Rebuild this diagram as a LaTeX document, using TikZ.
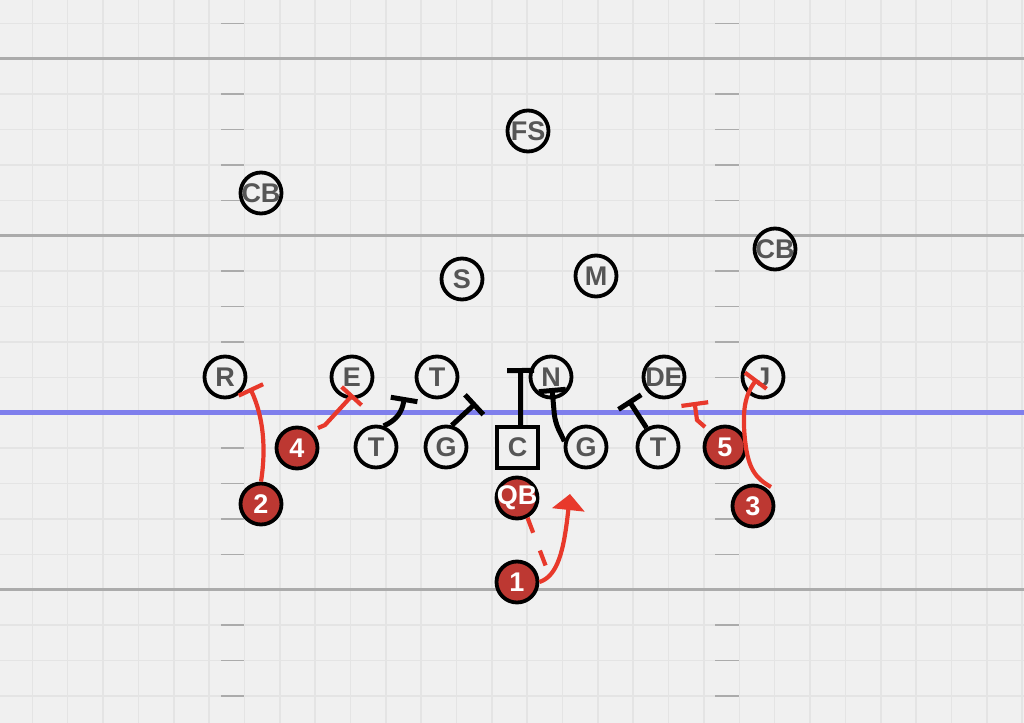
\documentclass[tikz,border=0pt]{standalone}
\usepackage{fontspec}
\setmainfont{Liberation Sans}
\usetikzlibrary{arrows.meta}

\definecolor{fieldbg}{HTML}{F0F0F0}
\definecolor{gridln}{HTML}{E4E4E4}
\definecolor{yardln}{HTML}{ABABAB}
\definecolor{scrim}{HTML}{7F7FEC}
\definecolor{routered}{HTML}{E8392B}
\definecolor{playred}{HTML}{BD3832}
\definecolor{lettergray}{HTML}{555555}

\tikzset{
  def/.style={circle,draw=black,line width=1.9pt,fill=fieldbg,minimum size=20.5pt,inner sep=0pt,
    font=\bfseries\fontsize{13.5}{13.5}\selectfont,text=lettergray},
  ctr/.style={def,rectangle},
  mine/.style={def,fill=playred,text=white},
  blk/.style={line width=2.5pt,-{Bar[width=13.5pt]}},
  redblk/.style={blk,draw=routered,line width=2.1pt},
}
\newcommand{\pl}[1]{\makebox[0pt]{#1}}

\begin{document}
\begin{tikzpicture}[x=0.5pt,y=-0.5pt]
    \fill[fieldbg] (0,0) rectangle (1024,723);
    \useasboundingbox (0,0) rectangle (1024,723);

    % field
    \foreach \i in {0,...,28}
        \draw[gridln,line width=0.8pt] ({32.3+35.35*\i},0) -- ++(0,723);
    \foreach \j in {0,...,19}
        \draw[gridln,line width=0.8pt] (0,{23.3+35.4*\j}) -- ++(1024,0);
    \foreach \j in {1,6,11,16}
        \draw[yardln,line width=1.75pt] (0,{23.3+35.4*\j}) -- ++(1024,0);
    \foreach \j in {0,2,3,4,5,7,8,9,10,12,13,14,15,17,18,19} {
        \draw[yardln,line width=0.7pt] (221,{23.3+35.4*\j}) -- (244,{23.3+35.4*\j});
        \draw[yardln,line width=0.7pt] (715,{23.3+35.4*\j}) -- (739,{23.3+35.4*\j});
    }
    \draw[scrim,line width=2.5pt] (0,412.3) -- (1024,412.3);

    % defense
    \node[def] (cbl) at (261,193) {\pl{CB}};
    \node[def] (fs) at (528,131) {\pl{FS}};
    \node[def] (ss) at (462,279) {\pl{S}};
    \node[def] (mm) at (596,276) {\pl{M}};
    \node[def] (cbr) at (775,249) {\pl{CB}};
    \node[def] (rr) at (225,377) {\pl{R}};
    \node[def] (ee) at (352,377) {\pl{E}};
    \node[def] (tt) at (437,377) {\pl{T}};
    \node[def] (nn) at (551,377) {\pl{N}};
    \node[def] (de) at (664,377) {\pl{DE}};
    \node[def] (jj) at (763,377) {\pl{J}};

    % offense
    \node[def] (otl) at (376,447) {\pl{T}};
    \node[def] (ogl) at (446,447) {\pl{G}};
    \node[ctr] (oc) at (517.7,447.5) {\pl{C}};
    \node[def] (ogr) at (586,447) {\pl{G}};
    \node[def] (otr) at (658,447) {\pl{T}};
    \node[mine] (qb) at (517,498) {\pl{QB}};
    \node[mine] (p4) at (297,448) {\pl{4}};
    \node[mine] (p2) at (261,504) {\pl{2}};
    \node[mine] (p5) at (725,447) {\pl{5}};
    \node[mine] (p3) at (753,506) {\pl{3}};
    \node[mine] (p1) at (517,582) {\pl{1}};

    % blocks
    \coordinate (b2) at (250,388);
    \coordinate (b4) at (353,394.5);
    \coordinate (bt) at (404.5,397);
    \coordinate (bg) at (476,403);
    \coordinate (bc) at (520.5,368);
    \coordinate (bgr) at (552,388);
    \coordinate (btr) at (628.5,400);
    \coordinate (b5) at (694.5,402);
    \coordinate (b3) at (757,379);
    \coordinate (a1) at (570,494);
    \coordinate (pass) at (548,572);

    \draw[redblk] (p2.north) .. controls (266,450) and (264,418) .. (b2);
    \draw[redblk] (318,428) -- (325,425) -- (b4);
    \draw[blk] (otl.70) .. controls (397,420) and (402,412) .. (bt);
    \draw[blk] (ogl.75) -- (bg);
    \draw[blk] ([xshift=1.5pt]oc.north) -- (bc);
    \draw[blk,rounded corners=4pt] (ogr.165) -- (555,422) -- (bgr);
    \draw[blk] (otr.121) -- (btr);
    \draw[redblk] (705,427) -- (697,420) -- (b5);
    \draw[redblk] (771,487) .. controls (755,478) and (748,468) .. (745,440)
        .. controls (742,410) and (745,395) .. (b3);

    % pass and route
    \draw[routered,line width=2.1pt,dash pattern=on 8pt off 9.5pt] (qb.-62) -- (pass);
    \draw[routered,line width=2.1pt,-{Triangle[width=16pt,length=8pt]}]
        (p1.east) .. controls (558,576) and (564,550) .. (a1);
\end{tikzpicture}
\end{document}
